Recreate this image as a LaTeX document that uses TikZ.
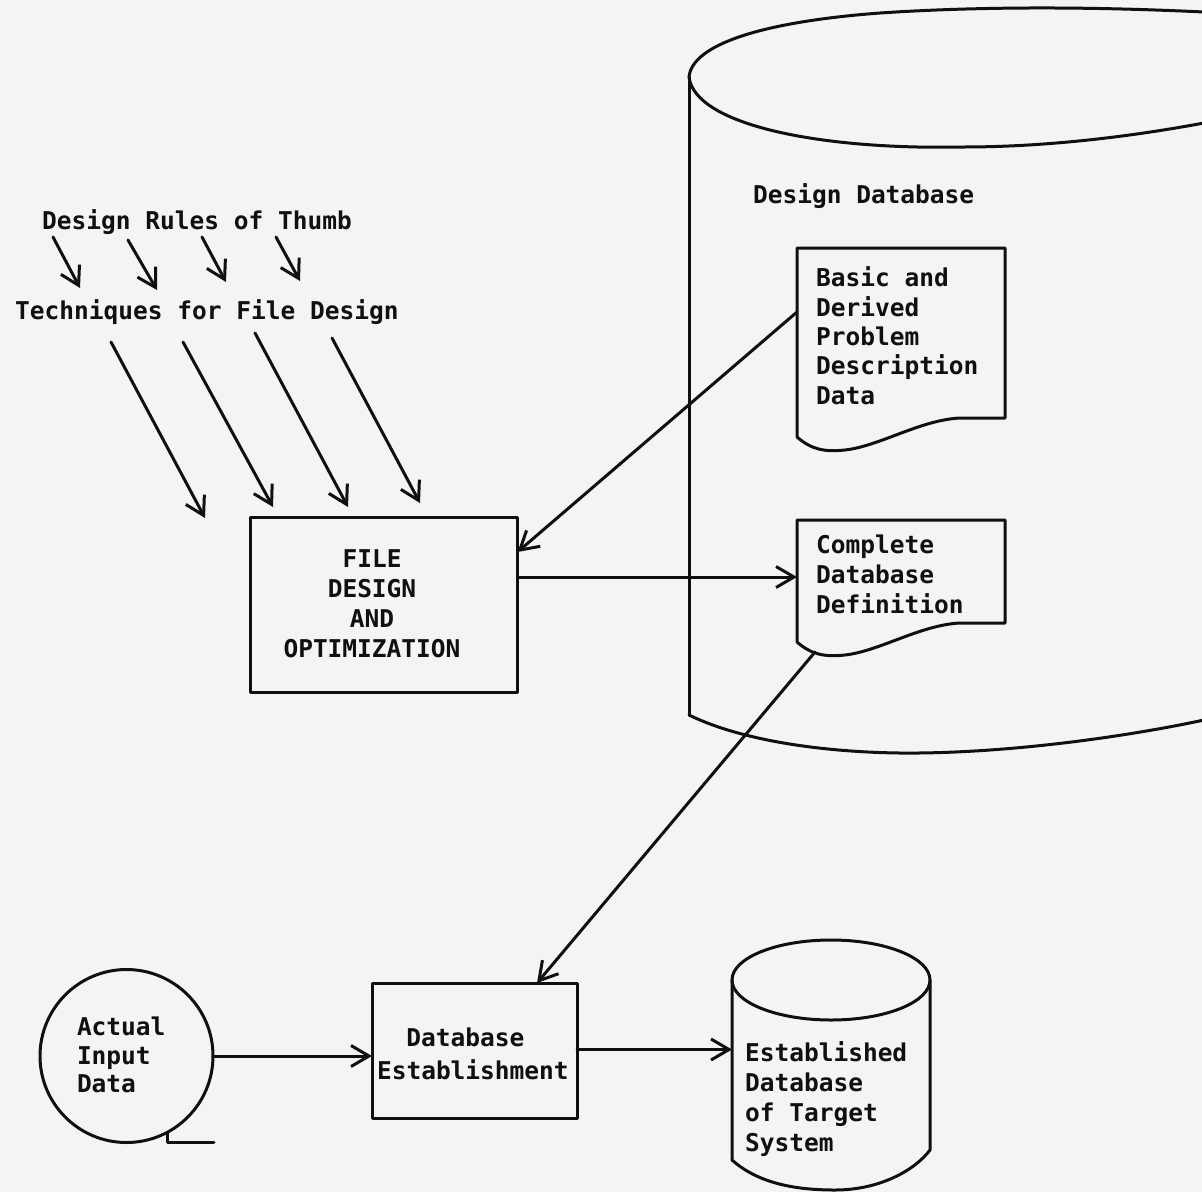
\documentclass[tikz,border=0pt]{standalone}
\usepackage{fontspec}
\setmonofont{DejaVu Sans Mono}
\usetikzlibrary{arrows.meta,calc}
\definecolor{paper}{RGB}{244,244,242}
\definecolor{ink}{RGB}{16,16,16}

\begin{document}
\begin{tikzpicture}[x=1pt,y=-1pt,
  every node/.style={font=\ttfamily\bfseries\fontsize{24.5}{30}\selectfont, text=ink, inner sep=0pt, outer sep=0pt},
  inkline/.style={draw=ink, line width=3pt, line join=round, line cap=round},
  flow/.style={inkline, -{Straight Barb[length=18pt,width=21pt]}},
  procbox/.style={inkline, rectangle},
  txt/.style={anchor=north west, align=left},
  area/.style={rectangle},
]
% paper
\fill[paper] (0,0) rectangle (1202,1192);
\useasboundingbox (0,0) rectangle (1202,1192);

% ---------- headings at the upper left ----------
\node[anchor=base] (rules) at (197,229) {Design Rules of Thumb};
\node[anchor=base] (techs) at (207,319) {Techniques for File Design};

% short arrows between the two headings
\coordinate (r1) at (53,237);  \coordinate (t1) at (80,288);
\coordinate (r2) at (128,240); \coordinate (t2) at (157,290);
\coordinate (r3) at (202,237); \coordinate (t3) at (226,282);
\coordinate (r4) at (276,237); \coordinate (t4) at (300,281);
\foreach \i in {1,...,4} \draw[flow] (r\i) -- (t\i);

% ---------- file design box ----------
\node[procbox, minimum width=267pt, minimum height=175pt] (file) at (384,604.5) {};
\node[anchor=north, align=center] (filetxt) at (372,550) {FILE\\DESIGN\\AND\\OPTIMIZATION};

% long arrows from the techniques into the box
\coordinate (s1) at (111,342); \coordinate (e1) at (205,518);
\coordinate (s2) at (183,342); \coordinate (e2) at (273,507);
\coordinate (s3) at (255,333); \coordinate (e3) at (348,507);
\coordinate (s4) at (332,338); \coordinate (e4) at (420,503);
\foreach \i in {1,...,4} \draw[flow] (s\i) -- (e\i);

% ---------- design database cylinder ----------
\draw[inkline] (689,715) -- (689,77);
\draw[inkline] (689,77) .. controls (692,45) and (760,22) .. (880,13)
               .. controls (1000,5) and (1120,8) .. (1204,12);
\draw[inkline] (689,77) .. controls (695,125) and (820,150) .. (963,147)
               .. controls (1060,147) and (1150,133) .. (1204,123);
\draw[inkline] (689,715) .. controls (740,740) and (820,752) .. (900,753)
               .. controls (1000,754) and (1120,738) .. (1204,720);
\node[anchor=base west] (dbname) at (753,203) {Design Database};

% document: basic and derived data
\node[area, minimum width=208pt, minimum height=189pt, anchor=north west] (doc1) at (797,248) {};
\draw[inkline] (797,437) -- (797,248) -- (1005,248) -- (1005,418) -- (960,418)
   .. controls (920,420) and (880,446) .. (845,450)
   .. controls (825,452) and (812,450) .. (797,437);
\node[txt, font=\ttfamily\bfseries\fontsize{24.5}{29.3}\selectfont] (doc1txt) at (816,267)
   {Basic and\\Derived\\Problem\\Description\\Data};

% document: complete definition
\node[area, minimum width=208pt, minimum height=135pt, anchor=north west] (doc2) at (797,520) {};
\draw[inkline] (797,642) -- (797,520) -- (1005,520) -- (1005,623) -- (960,623)
   .. controls (920,625) and (880,651) .. (845,655)
   .. controls (825,657) and (812,655) .. (797,642);
\node[txt] (doc2txt) at (816,535) {Complete\\Database\\Definition};
\coordinate (d2tail) at (815,652);

% connectors around the file design box
\coordinate (d1out) at ($(doc1.north west)+(0,64)$);
\coordinate (fin) at ($(file.north east)+(0,35)$);
\draw[flow] (d1out) -- (fin);
\coordinate (fout) at ($(file.north east)+(0,60)$);
\draw[flow] (fout) -- (fout -| doc2.west);

% ---------- lower row ----------
\node[inkline, circle, minimum size=173pt] (input) at (126.5,1056) {};
\draw[inkline] (167,1133) -- (167,1142) -- (214,1142);
\node[txt, font=\ttfamily\bfseries\fontsize{24.5}{28.5}\selectfont] (inputtxt) at (77,1017) {Actual\\Input\\Data};

\node[procbox, minimum width=205pt, minimum height=135pt] (estab) at (474.5,1050.5) {};
\node[txt, font=\ttfamily\bfseries\fontsize{24.5}{33}\selectfont] (estabtxt) at (377,1028)
   {\hspace*{29.4pt}Database\\Establishment};

% established database cylinder
\node[area, minimum width=198pt, minimum height=180pt, anchor=north west] (estdb) at (732,980) {};
\draw[inkline] (831,980) ellipse [x radius=99, y radius=40];
\draw[inkline] (732,980) -- (732,1160)
   .. controls (760,1185) and (800,1190) .. (835,1190)
   .. controls (880,1190) and (915,1170) .. (930,1150) -- (930,980);
\node[txt] (estdbtxt) at (745,1042) {Established\\Database\\of Target\\System};

\draw[flow] (d2tail) -- ($(estab.north east)+(-40,0)$);
\draw[flow] (input.east) -- (input.east -| estab.west);
\coordinate (eout) at ($(estab.east)+(0,-1)$);
\draw[flow] (eout) -- (eout -| estdb.west);
\end{tikzpicture}
\end{document}
